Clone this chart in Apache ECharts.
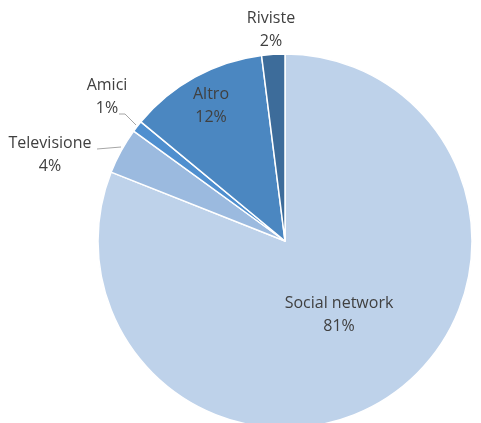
<!DOCTYPE html>
<html>
<head>
<meta charset="utf-8">
<script src="https://cdn.jsdelivr.net/npm/echarts@6/dist/echarts.min.js"></script>
<style>
  html, body { margin: 0; padding: 0; background: #fff; }
  #chart { width: 481px; height: 423px; }
</style>
</head>
<body>
<div id="chart"></div>
<script>
// dati del grafico
const categories = ['Social network', 'Televisione', 'Amici', 'Altro', 'Riviste']
const values = [81, 4, 1, 12, 2]
const colors = ['#BED2EA', '#9BBADF', '#4F8FCF', '#4B87C1', '#3D6C9A']

// dove mettere le etichette (stile Excel)
const labelSpots = [
  { x: 339, y: 315 },
  { x: 50, y: 155, line: [[121, 147], [97, 149]] },
  { x: 107, y: 97, line: [[136, 125], [125, 114], [119, 114]] },
  { x: 211, y: 106 },
  { x: 271, y: 30 },
]

const chart = echarts.init(document.getElementById('chart'))

const seriesData = categories.map((name, i) => ({
  name: name,
  value: values[i],
  itemStyle: { color: colors[i] },
  labelLine: { show: !!labelSpots[i].line },
}))

chart.setOption({
  animation: false,
  series: [
    {
      type: 'pie',
      center: [285, 241],
      radius: 187,
      startAngle: 90,
      clockwise: true,
      data: seriesData,
      itemStyle: {
        borderColor: '#ffffff',
        borderWidth: 1.5,
      },
      label: {
        show: true,
        position: 'outside',
        formatter: '{b}\n{c}%',
        fontFamily: 'Open Sans',
        fontSize: 16,
        lineHeight: 23,
        color: '#404040',
        overflow: 'none',
      },
      labelLine: {
        show: true,
        lineStyle: { color: '#A6A6A6', width: 1 },
      },
      labelLayout: (params) => {
        const spot = labelSpots[params.dataIndex]
        const out = {
          x: spot.x,
          y: spot.y,
          align: 'center',
          verticalAlign: 'middle',
        }
        if (spot.line) out.labelLinePoints = spot.line
        return out
      },
    },
  ],
})
</script>
</body>
</html>
